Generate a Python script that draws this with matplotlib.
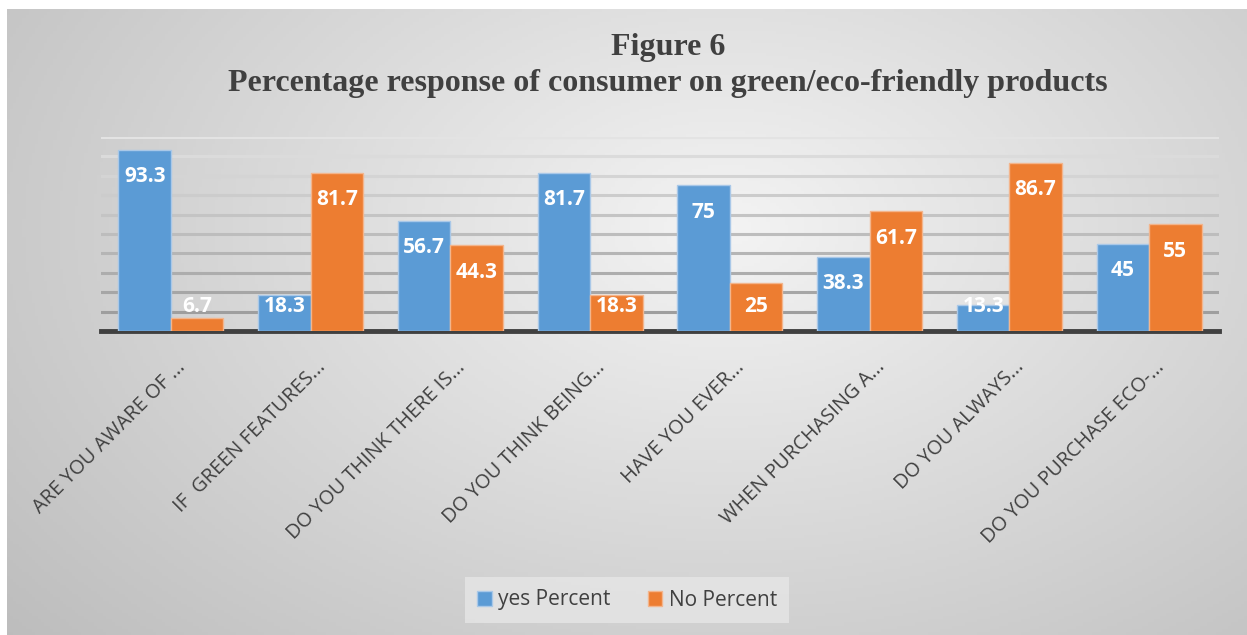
import numpy as np
import matplotlib.pyplot as plt
import matplotlib.transforms as mtransforms

questions = ["ARE YOU AWARE OF ...", "IF  GREEN FEATURES...", "DO YOU THINK THERE IS...",
             "DO YOU THINK BEING...", "HAVE YOU EVER...", "WHEN PURCHASING A...",
             "DO YOU ALWAYS...", "DO YOU PURCHASE ECO-..."]
yes_pct = [93.3, 18.3, 56.7, 81.7, 75, 38.3, 13.3, 45]
no_pct = [6.7, 81.7, 44.3, 18.3, 25, 61.7, 86.7, 55]

blue = '#5b9bd5'
orange = '#ed7d31'
txt = '#404040'

fig = plt.figure(figsize=(12.47, 6.35), dpi=100)
fig.patch.set_facecolor('white')

# gradient background of the chart area
bg = fig.add_axes([7 / 1247, 0, 1 - 7 / 1247, 1 - 9 / 635], zorder=-5)
gx, gy = np.meshgrid(np.linspace(0, 1, 400), np.linspace(0, 1, 200))
d = np.sqrt(((gx - 0.58) / 1.0) ** 2 + ((gy - 0.35) / 1.3) ** 2)
shade = 0.955 - 0.28 * d
bg.imshow(np.dstack([shade] * 3).clip(0, 1), aspect='auto', extent=[0, 1, 0, 1])
bg.axis('off')

ax = fig.add_axes([101 / 1247, 1 - 331 / 635, (1219 - 101) / 1247, 194 / 635])
ax.patch.set_alpha(0)

x = np.arange(len(questions))
w = 0.375
b1 = ax.bar(x - w / 2, yes_pct, w, color=blue, edgecolor='#a9c8e8', linewidth=1, zorder=3)
b2 = ax.bar(x + w / 2, no_pct, w, color=orange, edgecolor='#f3b58c', linewidth=1, zorder=3)

for xs, vals in [(x - w / 2, yes_pct), (x + w / 2, no_pct)]:
    for xi, v in zip(xs, vals):
        ax.text(xi, max(v - 13.9, 12.5), f'{v:g}', ha='center', va='center',
                color='white', fontsize=15, fontweight='bold', family='Open Sans', zorder=5)

ax.set_xlim(-0.5, len(questions) - 0.5)
ax.set_ylim(0, 100)
ax.set_yticks(np.arange(10, 101, 10))
ax.set_yticklabels([])
ax.tick_params(axis='y', length=0)
ax.yaxis.grid(True, linewidth=2.2, zorder=0)
ax.set_axisbelow(True)
for i, gl in enumerate(ax.get_ygridlines()):
    g = 0.62 + 0.03 * i
    gl.set_color((g, g, g))

for s in ['top', 'right', 'left']:
    ax.spines[s].set_visible(False)
ax.spines['bottom'].set_color(txt)
ax.spines['bottom'].set_linewidth(3.5)

ax.set_xticks(x)
ax.set_xticklabels(questions, rotation=45, ha='right', va='center', rotation_mode='anchor',
                   fontsize=14.3, color=txt, family='Open Sans')
ax.tick_params(axis='x', length=0, pad=24)
off = mtransforms.ScaledTranslation(12 / 100, 0, fig.dpi_scale_trans)
for lbl in ax.get_xticklabels():
    lbl.set_transform(lbl.get_transform() + off)

fig.text(668 / 1247, 1 - 47 / 635, 'Figure 6', ha='center', va='center', fontsize=23,
         fontweight='bold', family='Liberation Serif', color=txt)
fig.text(668 / 1247, 1 - 84 / 635, 'Percentage response of consumer on green/eco-friendly products',
         ha='center', va='center', fontsize=23, fontweight='bold', family='Liberation Serif', color=txt)

leg = fig.legend([b1, b2], ['yes Percent', 'No Percent'], loc='center',
                 bbox_to_anchor=(627 / 1247, 1 - 600 / 635), ncol=2, frameon=True,
                 prop={'family': 'Open Sans', 'size': 15}, handlelength=0.7, handleheight=0.7,
                 handletextpad=0.3, columnspacing=1.8, borderpad=0.6, borderaxespad=0,
                 fancybox=False)
leg.get_frame().set_facecolor('#e6e6e6')
leg.get_frame().set_edgecolor('none')
for t in leg.get_texts():
    t.set_color(txt)

fig.savefig('out.png', dpi=100)
